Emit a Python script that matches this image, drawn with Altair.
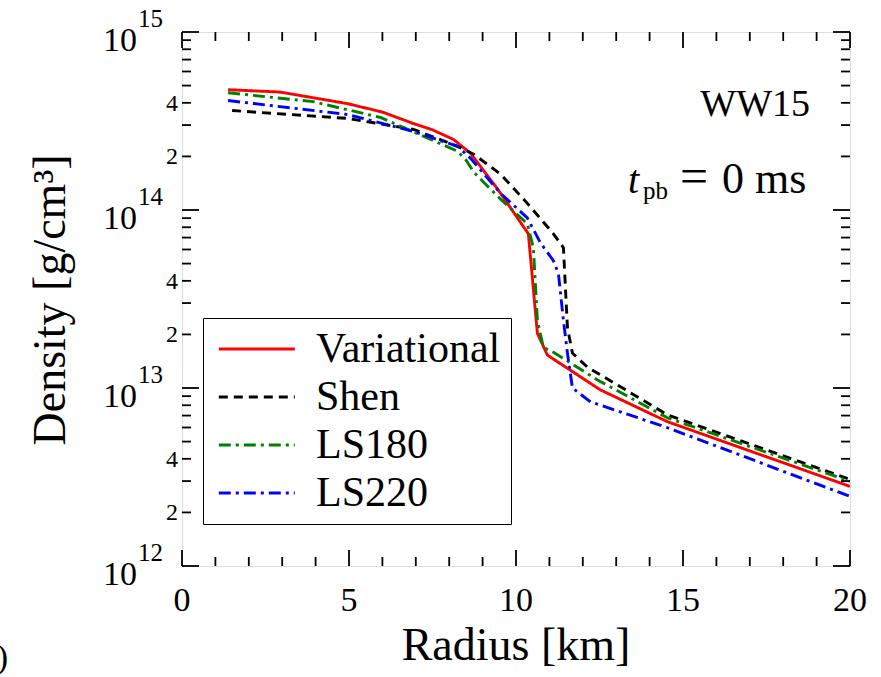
import altair as alt
import pandas as pd

# ---------------- data ----------------
series = ["Variational", "Shen", "LS180", "LS220"]
colors = ["#ff0000", "#000000", "#008000", "#0000ff"]
dashes = [[1, 0], [9, 6], [12, 5, 3, 5], [12, 5, 3, 5]]

var_r = [1.38, 2.93, 4.95, 6.0, 6.93, 7.5, 8.13, 8.64, 9.45, 10.37, 10.64, 10.94, 12.53, 14.54, 20.0]
var_rho = [4.74e14, 4.60e14, 3.96e14, 3.55e14, 3.06e14, 2.82e14, 2.49e14, 2.08e14, 1.31e14,
           7.35e13, 2.03e13, 1.53e13, 9.75e12, 6.46e12, 2.80e12]

shen_r = [1.50, 4.95, 6.93, 8.25, 8.73, 9.54, 10.34, 11.12, 11.42, 11.48, 11.54, 11.69, 12.14, 14.54, 20.0]
shen_rho = [3.62e14, 3.27e14, 2.84e14, 2.28e14, 2.06e14, 1.59e14, 1.09e14, 7.35e13, 6.14e13,
            3.66e13, 2.19e13, 1.57e13, 1.31e13, 7.06e12, 3.06e12]

ls180_r = [1.38, 3.93, 5.94, 8.25, 8.50, 8.75, 9.15, 9.54, 10.34, 10.52, 10.64, 10.82, 11.12, 12.44, 14.54, 20.0]
ls180_rho = [4.56e14, 4.06e14, 3.31e14, 2.14e14, 1.91e14, 1.62e14, 1.36e14, 1.15e14, 8.36e13,
             6.14e13, 2.40e13, 1.69e13, 1.59e13, 1.11e13, 6.79e12, 2.99e12]

ls220_r = [1.38, 4.95, 6.93, 8.25, 8.64, 9.54, 10.34, 10.73, 11.12, 11.27, 11.42, 11.54, 11.69, 12.23, 14.54, 20.0]
ls220_rho = [4.12e14, 3.44e14, 2.76e14, 2.28e14, 1.95e14, 1.24e14, 9.02e13, 6.55e13, 5.19e13,
             4.39e13, 2.40e13, 1.57e13, 1.00e13, 8.36e12, 5.98e12, 2.46e12]

x_major = [0, 5, 10, 15, 20]
x_major_labels = ["0", "5", "10", "15", "20"]
x_minor = [1, 2, 3, 4, 6, 7, 8, 9, 11, 12, 13, 14, 16, 17, 18, 19]
y_major = [1e12, 1e13, 1e14, 1e15]
y_major_exp = ["12", "13", "14", "15"]
y_minor = [k * 10.0 ** e for e in (12, 13, 14) for k in range(2, 10)]
y_minor_label_vals = [2e12, 4e12, 2e13, 4e13, 2e14, 4e14]
y_minor_labels = ["2", "4", "2", "4", "2", "4"]

x_title = "Radius [km]"
y_title = "Density [g/cm³]"
model_text = "WW15"

# ---------------- build ----------------
rows = []
for name, rs, ds in [("Variational", var_r, var_rho), ("Shen", shen_r, shen_rho),
                     ("LS180", ls180_r, ls180_rho), ("LS220", ls220_r, ls220_rho)]:
    for r, d in zip(rs, ds):
        rows.append({"series": name, "radius": r, "density": d})
df = pd.DataFrame(rows)

W, H = 668, 534
FONT = "Liberation Serif, Times New Roman, Times, serif"
xs = alt.Scale(domain=[0, 20], nice=False, zero=False)
ys = alt.Scale(type="log", domain=[1e12, 1e15], nice=False)

leg = alt.Legend(orient="none", legendX=21, legendY=286, title=None,
                 symbolType="M-0.8,0H3.2", symbolSize=1444, symbolStrokeWidth=2.8,
                 labelFont=FONT, labelFontSize=42, labelLimit=500, labelOffset=61,
                 strokeColor="black", fillColor="white", padding=10, rowPadding=6)

lines = alt.Chart(df).mark_line(strokeWidth=2.9, clip=True).encode(
    x=alt.X("radius:Q", scale=xs, axis=None),
    y=alt.Y("density:Q", scale=ys, axis=None),
    color=alt.Color("series:N", scale=alt.Scale(domain=series, range=colors), legend=leg),
    strokeDash=alt.StrokeDash("series:N", scale=alt.Scale(domain=series, range=dashes), legend=leg),
)


def xticks(vals, length):
    d = pd.DataFrame({"v": vals})
    base = alt.Chart(d).mark_rule(color="black", strokeWidth=1.8)
    enc_x = alt.X("v:Q", scale=xs, axis=None)
    return [base.encode(x=enc_x, y=alt.value(H), y2=alt.value(H - length)),
            base.encode(x=enc_x, y=alt.value(0), y2=alt.value(length))]


def yticks(vals, length):
    d = pd.DataFrame({"v": vals})
    base = alt.Chart(d).mark_rule(color="black", strokeWidth=1.8)
    enc_y = alt.Y("v:Q", scale=ys, axis=None)
    return [base.encode(y=enc_y, x=alt.value(0), x2=alt.value(length)),
            base.encode(y=enc_y, x=alt.value(W), x2=alt.value(W - length))]


tick_layers = xticks(x_major, 16) + xticks(x_minor, 9) + yticks(y_major, 17) + yticks(y_minor, 9)

xlab = alt.Chart(pd.DataFrame({"v": x_major, "t": x_major_labels})).mark_text(
    font=FONT, fontSize=34, align="center", baseline="alphabetic", color="black").encode(
    x=alt.X("v:Q", scale=xs, axis=None), y=alt.value(H + 45), text="t:N")

ylab10 = alt.Chart(pd.DataFrame({"v": y_major, "t": ["10"] * 4})).mark_text(
    font=FONT, fontSize=34, align="right", baseline="alphabetic", dy=19, color="black").encode(
    y=alt.Y("v:Q", scale=ys, axis=None), x=alt.value(-45), text="t:N")

ylabexp = alt.Chart(pd.DataFrame({"v": y_major, "t": y_major_exp})).mark_text(
    font=FONT, fontSize=25, align="left", baseline="alphabetic", dy=-5, color="black").encode(
    y=alt.Y("v:Q", scale=ys, axis=None), x=alt.value(-44), text="t:N")

yminlab = alt.Chart(pd.DataFrame({"v": y_minor_label_vals, "t": y_minor_labels})).mark_text(
    font=FONT, fontSize=24, align="right", baseline="middle", dy=1, color="black").encode(
    y=alt.Y("v:Q", scale=ys, axis=None), x=alt.value(-4), text="t:N")


def label(text, x, y, size, align="left", baseline="alphabetic", angle=0, style="normal"):
    return alt.Chart(pd.DataFrame({"t": [text]})).mark_text(
        font=FONT, fontSize=size, align=align, baseline=baseline, angle=angle,
        fontStyle=style, color="black").encode(x=alt.value(x), y=alt.value(y), text="t:N")


annots = [
    label(x_title, W / 2, 628, 46, align="center"),
    label(y_title, -131, 268, 46, align="center", baseline="middle", angle=270),
    label(model_text, 628, 84, 38, align="right"),
    label("t", 446, 161, 40, style="italic"),
    label("pb", 461, 167, 25),
    label("=", 512, 161, 50, align="center"),
    label("0 ms", 540, 161, 44),
    label("0)", -174, 636, 34, align="right"),
]

chart = alt.layer(lines, *tick_layers, xlab, ylab10, ylabexp, yminlab, *annots).properties(
    width=W, height=H,
    autosize=alt.AutoSizeParams(type="none"),
    padding={"left": 182, "top": 32, "right": 31, "bottom": 111},
).configure_view(stroke="black", strokeWidth=2).configure(font=FONT)

chart.save("out.html", embed_options={"renderer": "svg", "actions": False})
